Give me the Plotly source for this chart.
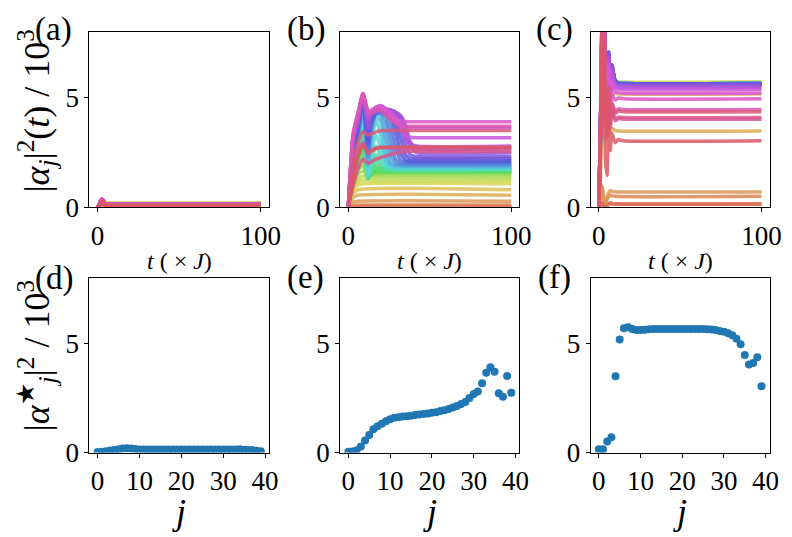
import colorsys
import plotly.graph_objects as go

# mode index
J_IDX = list(range(40))

# steady-state populations |alpha_j*|^2 / 10^3 (d), (e), (f)
D_FINAL = [0.02, 0.04, 0.06, 0.09, 0.12, 0.15, 0.19, 0.20, 0.19, 0.16,
           0.14, 0.14, 0.14, 0.14, 0.14, 0.14, 0.14, 0.14, 0.14, 0.14,
           0.14, 0.14, 0.14, 0.14, 0.14, 0.14, 0.14, 0.14, 0.14, 0.14,
           0.14, 0.14, 0.14, 0.14, 0.15, 0.13, 0.12, 0.12, 0.08, 0.06]
E_FINAL = [0.03, 0.05, 0.10, 0.28, 0.55, 0.80, 1.07, 1.20, 1.32, 1.43,
           1.53, 1.59, 1.62, 1.65, 1.66, 1.69, 1.72, 1.74, 1.76, 1.79,
           1.82, 1.85, 1.90, 1.94, 1.99, 2.06, 2.13, 2.22, 2.32, 2.50,
           2.68, 2.80, 3.18, 3.65, 3.91, 3.70, 2.72, 2.56, 3.51, 2.74]
F_FINAL = [0.15, 0.15, 0.50, 0.70, 3.49, 5.18, 5.69, 5.74, 5.66, 5.62,
           5.62, 5.63, 5.65, 5.66, 5.66, 5.66, 5.66, 5.66, 5.66, 5.66,
           5.66, 5.66, 5.66, 5.66, 5.66, 5.66, 5.65, 5.64, 5.62, 5.57,
           5.53, 5.46, 5.37, 5.21, 4.96, 4.47, 4.03, 4.10, 4.37, 3.04]

T_END = 100

# transients for panel (a): values at T_A knots, then the line holds D_FINAL
T_A = [0, 1, 2, 3, 4, 5, 7]
A_CURVES = [
    [0, 0.01, 0.02, 0.02, 0.02, 0.02],
    [0, 0.02, 0.05, 0.05, 0.04, 0.04],
    [0, 0.03, 0.07, 0.08, 0.06, 0.06],
    [0, 0.05, 0.11, 0.12, 0.10, 0.09],
    [0, 0.06, 0.15, 0.16, 0.13, 0.12],
    [0, 0.08, 0.19, 0.20, 0.16, 0.15],
    [0, 0.10, 0.24, 0.25, 0.20, 0.19],
    [0, 0.10, 0.25, 0.26, 0.21, 0.20],
    [0, 0.10, 0.25, 0.26, 0.20, 0.19],
    [0, 0.09, 0.22, 0.23, 0.17, 0.16],
    [0, 0.09, 0.24, 0.26, 0.18, 0.15, 0.14],
    [0, 0.09, 0.24, 0.27, 0.18, 0.15, 0.14],
    [0, 0.10, 0.25, 0.28, 0.19, 0.15, 0.14],
    [0, 0.10, 0.25, 0.28, 0.19, 0.15, 0.14],
    [0, 0.10, 0.26, 0.29, 0.19, 0.15, 0.14],
    [0, 0.10, 0.26, 0.29, 0.20, 0.15, 0.14],
    [0, 0.11, 0.27, 0.30, 0.20, 0.15, 0.14],
    [0, 0.11, 0.27, 0.30, 0.20, 0.15, 0.14],
    [0, 0.11, 0.28, 0.31, 0.21, 0.15, 0.14],
    [0, 0.11, 0.28, 0.31, 0.21, 0.15, 0.14],
    [0, 0.12, 0.29, 0.32, 0.21, 0.15, 0.14],
    [0, 0.12, 0.29, 0.33, 0.22, 0.15, 0.14],
    [0, 0.12, 0.30, 0.33, 0.22, 0.15, 0.14],
    [0, 0.12, 0.30, 0.34, 0.22, 0.15, 0.14],
    [0, 0.12, 0.30, 0.34, 0.22, 0.15, 0.14],
    [0, 0.13, 0.31, 0.35, 0.23, 0.15, 0.14],
    [0, 0.13, 0.31, 0.35, 0.23, 0.15, 0.14],
    [0, 0.13, 0.31, 0.36, 0.23, 0.15, 0.14],
    [0, 0.13, 0.32, 0.36, 0.23, 0.15, 0.14],
    [0, 0.13, 0.32, 0.36, 0.23, 0.15, 0.14],
    [0, 0.13, 0.32, 0.37, 0.23, 0.15, 0.14],
    [0, 0.13, 0.32, 0.37, 0.23, 0.15, 0.14],
    [0, 0.13, 0.32, 0.36, 0.23, 0.15, 0.14],
    [0, 0.13, 0.31, 0.36, 0.22, 0.15, 0.14],
    [0, 0.12, 0.30, 0.35, 0.22, 0.16, 0.15],
    [0, 0.10, 0.28, 0.33, 0.20, 0.14, 0.13],
    [0, 0.10, 0.27, 0.32, 0.19, 0.13, 0.12],
    [0, 0.10, 0.26, 0.30, 0.18, 0.13, 0.12],
    [0, 0.08, 0.20, 0.24, 0.14, 0.09, 0.08],
    [0, 0.06, 0.17, 0.20, 0.11, 0.07, 0.06],
]

# transients for panel (b)
T_B = [0, 3, 6, 9, 12, 14, 17, 20, 23, 26, 29, 32, 35, 38, 42]
B_CURVES = [
    [0, 0.03],
    [0, 0.05],
    [0, 0.09, 0.10],
    [0, 0.24, 0.28],
    [0, 0.45, 0.55],
    [0, 0.62, 0.80],
    [0, 0.75, 1.02, 1.07],
    [0, 0.85, 1.15, 1.24, 1.20],
    [0, 0.95, 1.30, 1.42, 1.30, 1.32],
    [0, 1.05, 1.50, 1.65, 1.38, 1.43],
    [0, 1.15, 1.70, 1.90, 1.42, 1.50, 1.53],
    [0, 1.25, 1.85, 2.20, 1.42, 1.50, 1.59],
    [0, 1.35, 2.00, 2.50, 1.40, 1.50, 1.64, 1.62],
    [0, 1.45, 2.15, 2.80, 1.38, 1.50, 1.70, 1.65],
    [0, 1.55, 2.30, 3.10, 1.35, 1.55, 1.78, 1.68, 1.66],
    [0, 1.65, 2.45, 3.40, 1.30, 1.60, 1.90, 1.75, 1.69],
    [0, 1.75, 2.60, 3.65, 1.30, 1.70, 2.10, 1.85, 1.74, 1.72],
    [0, 1.85, 2.70, 3.85, 1.35, 1.85, 2.40, 2.00, 1.80, 1.74],
    [0, 1.95, 2.80, 4.00, 1.40, 2.10, 2.80, 2.30, 1.90, 1.78, 1.76],
    [0, 2.05, 2.90, 4.15, 1.50, 2.40, 3.30, 2.70, 2.00, 1.82, 1.79],
    [0, 2.15, 3.00, 4.30, 1.70, 2.80, 4.00, 3.20, 2.10, 1.86, 1.82],
    [0, 2.25, 3.10, 4.45, 1.90, 3.10, 4.20, 3.90, 2.40, 1.92, 1.86, 1.85],
    [0, 2.35, 3.20, 4.55, 2.10, 3.40, 4.30, 4.20, 3.10, 2.05, 1.92, 1.90],
    [0, 2.45, 3.30, 4.65, 2.30, 3.60, 4.30, 4.30, 3.90, 2.50, 2.00, 1.95, 1.94],
    [0, 2.55, 3.40, 4.75, 2.50, 3.75, 4.30, 4.30, 4.20, 3.30, 2.20, 2.02, 1.99],
    [0, 2.65, 3.50, 4.85, 2.70, 3.85, 4.30, 4.35, 4.30, 4.00, 2.80, 2.15, 2.07, 2.06],
    [0, 2.75, 3.60, 4.95, 2.90, 3.95, 4.35, 4.40, 4.35, 4.25, 3.60, 2.50, 2.18, 2.13],
    [0, 2.85, 3.70, 5.00, 3.10, 4.05, 4.40, 4.45, 4.40, 4.35, 4.10, 3.20, 2.40, 2.24, 2.22],
    [0, 2.95, 3.80, 5.05, 3.30, 4.15, 4.45, 4.50, 4.45, 4.40, 4.30, 3.90, 2.90, 2.40, 2.32],
    [0, 3.05, 3.90, 5.10, 3.60, 4.25, 4.50, 4.55, 4.50, 4.45, 4.35, 4.15, 3.50, 2.75, 2.50],
    [0, 3.15, 4.00, 5.15, 3.90, 4.30, 4.50, 4.60, 4.50, 4.45, 4.35, 4.20, 3.80, 3.00, 2.68],
    [0, 3.25, 4.10, 5.20, 4.10, 4.35, 4.55, 4.62, 4.50, 4.40, 4.20, 3.80, 3.20, 2.90, 2.80],
    [0, 3.30, 4.20, 5.20, 4.30, 4.40, 4.58, 4.65, 4.50, 4.35, 4.00, 3.60, 3.30, 3.20, 3.18],
    [0, 3.35, 4.30, 5.20, 4.40, 4.40, 4.58, 4.60, 4.42, 4.20, 3.95, 3.78, 3.68, 3.65],
    [0, 3.40, 4.35, 5.20, 4.45, 4.42, 4.55, 4.55, 4.40, 4.20, 4.05, 3.96, 3.92, 3.91],
    [0, 3.30, 4.30, 5.10, 4.35, 4.25, 4.40, 4.40, 4.20, 4.00, 3.84, 3.75, 3.71, 3.70],
    [0, 1.50, 2.60, 2.95, 2.45, 2.55, 2.68, 2.74, 2.72],
    [0, 1.00, 1.75, 2.20, 2.00, 2.08, 2.20, 2.28, 2.35, 2.42, 2.48, 2.52, 2.55, 2.56],
    [0, 2.00, 3.00, 3.45, 3.30, 3.35, 3.45, 3.50, 3.51],
    [0, 1.30, 2.30, 2.85, 2.50, 2.60, 2.70, 2.73, 2.74],
]

# transients for panel (c)
T_C = [0, 1, 2, 3, 4, 5, 6, 7, 8, 10, 12, 15]
C_CURVES = [
    [0, 0.10, 0.20, 0.08, 0.02, 0.06, 0.14, 0.20, 0.17, 0.15],
    [0, 0.12, 0.22, 0.10, 0.03, 0.08, 0.16, 0.20, 0.16, 0.15],
    [0, 0.55, 0.90, 0.35, 0.20, 0.35, 0.50, 0.56, 0.53, 0.50],
    [0, 0.70, 1.00, 0.45, 0.25, 0.45, 0.66, 0.76, 0.74, 0.71, 0.70],
    [0, 1.50, 3.80, 5.20, 3.10, 3.20, 3.30, 3.55, 3.60, 3.52, 3.49],
    [0, 2.50, 6.00, 8.50, 5.60, 4.90, 5.50, 5.30, 5.15, 5.20, 5.18],
    [0, 2.80, 7.00, 9.00, 7.00, 5.80, 6.30, 5.90, 5.80, 5.72, 5.69],
    [0, 2.90, 7.20, 9.00, 7.20, 5.90, 6.40, 6.00, 5.90, 5.78, 5.74],
    [0, 3.00, 7.40, 9.20, 7.10, 5.70, 6.50, 5.90, 6.00, 5.72, 5.68, 5.66],
    [0, 3.00, 7.50, 9.20, 7.00, 5.60, 6.50, 5.80, 6.00, 5.70, 5.64, 5.62],
    [0, 3.10, 7.60, 9.30, 6.90, 5.50, 6.60, 5.80, 6.10, 5.70, 5.64, 5.62],
    [0, 3.10, 7.60, 9.30, 6.90, 5.50, 6.60, 5.70, 6.10, 5.72, 5.65, 5.63],
    [0, 3.10, 7.70, 9.40, 6.80, 5.40, 6.60, 5.70, 6.10, 5.74, 5.67, 5.65],
    [0, 3.20, 7.70, 9.40, 6.80, 5.40, 6.70, 5.70, 6.20, 5.75, 5.68, 5.66],
    [0, 3.20, 7.80, 9.50, 6.70, 5.30, 6.70, 5.60, 6.20, 5.75, 5.68, 5.66],
    [0, 3.20, 7.80, 9.50, 6.70, 5.30, 6.70, 5.60, 6.20, 5.76, 5.68, 5.66],
    [0, 3.30, 7.90, 9.50, 6.60, 5.20, 6.80, 5.60, 6.30, 5.76, 5.68, 5.66],
    [0, 3.30, 7.90, 9.60, 6.60, 5.20, 6.80, 5.50, 6.30, 5.77, 5.68, 5.66],
    [0, 3.30, 8.00, 9.60, 6.50, 5.10, 6.80, 5.50, 6.30, 5.77, 5.68, 5.66],
    [0, 3.40, 8.00, 9.60, 6.50, 5.10, 6.90, 5.50, 6.30, 5.78, 5.68, 5.66],
    [0, 3.40, 8.10, 9.70, 6.40, 5.00, 6.90, 5.40, 6.40, 5.78, 5.68, 5.66],
    [0, 3.40, 8.10, 9.70, 6.40, 5.00, 6.90, 5.40, 6.40, 5.78, 5.68, 5.66],
    [0, 3.50, 8.20, 9.70, 6.30, 4.90, 7.00, 5.40, 6.40, 5.79, 5.68, 5.66],
    [0, 3.50, 8.20, 9.80, 6.30, 4.90, 7.00, 5.30, 6.40, 5.79, 5.68, 5.66],
    [0, 3.50, 8.30, 9.80, 6.20, 4.80, 7.00, 5.30, 6.50, 5.80, 5.68, 5.66],
    [0, 3.60, 8.30, 9.80, 6.20, 4.80, 7.00, 5.30, 6.50, 5.80, 5.68, 5.66],
    [0, 3.60, 8.40, 9.90, 6.10, 4.70, 7.10, 5.20, 6.50, 5.78, 5.67, 5.65],
    [0, 3.60, 8.40, 9.90, 6.10, 4.70, 7.10, 5.20, 6.50, 5.76, 5.66, 5.64],
    [0, 3.70, 8.50, 9.90, 6.00, 4.60, 7.10, 5.20, 6.50, 5.74, 5.64, 5.62],
    [0, 3.70, 8.50, 9.90, 5.90, 4.50, 7.00, 5.10, 6.40, 5.68, 5.59, 5.57],
    [0, 3.70, 8.50, 9.80, 5.80, 4.50, 6.90, 5.00, 6.30, 5.62, 5.55, 5.53],
    [0, 3.70, 8.40, 9.70, 5.70, 4.40, 6.80, 4.90, 6.20, 5.55, 5.48, 5.46],
    [0, 3.60, 8.30, 9.50, 5.70, 4.40, 6.60, 4.90, 6.00, 5.45, 5.39, 5.37],
    [0, 3.60, 8.20, 9.30, 5.60, 4.40, 6.30, 4.80, 5.70, 5.28, 5.23, 5.21],
    [0, 3.50, 8.00, 9.00, 5.50, 4.30, 5.80, 4.60, 5.20, 4.90, 5.00, 4.96],
    [0, 3.50, 8.20, 8.80, 4.80, 3.80, 5.40, 4.20, 4.80, 4.40, 4.50, 4.47],
    [0, 3.40, 8.30, 8.50, 4.00, 3.20, 5.00, 3.60, 4.40, 3.95, 4.05, 4.03],
    [0, 3.40, 8.20, 8.30, 4.20, 3.40, 5.20, 3.80, 4.50, 4.05, 4.12, 4.10],
    [0, 3.50, 8.00, 8.60, 4.60, 3.70, 5.50, 4.10, 4.70, 4.30, 4.40, 4.37],
    [0, 2.50, 6.00, 7.50, 2.30, 1.45, 4.00, 2.60, 3.40, 2.95, 3.10, 3.04],
]

Y_TICKS = [0, 5]
X_TICKS_TOP = [0, 100]
X_TICKS_BOT = [0, 10, 20, 30, 40]
PANEL_LABELS = ['(a)', '(b)', '(c)', '(d)', '(e)', '(f)']

W, H = 792, 537
FONT = 'Liberation Serif, Times New Roman, DejaVu Serif, serif'
DOT_BLUE = '#1f77b4'


def hls_palette(n, h=0.01, l=0.6, s=0.65):
    out = []
    for i in range(n):
        hue = (i / n + h) % 1
        r, g, b = colorsys.hls_to_rgb(hue, l, s)
        out.append('rgb(%d,%d,%d)' % (round(r * 255), round(g * 255), round(b * 255)))
    return out


COLORS = hls_palette(len(J_IDX))

# pixel boxes of each panel (left, right) and (top, bottom)
COL_PX = [(82.7, 265.0), (337.3, 519.3), (591.7, 773.3)]
ROW_PX = [(25.0, 205.0), (277.7, 457.3)]


def xdom(c):
    return [COL_PX[c][0] / W, COL_PX[c][1] / W]


def ydom(r):
    return [1 - ROW_PX[r][1] / H, 1 - ROW_PX[r][0] / H]


fig = go.Figure()

top_sets = [(T_A, A_CURVES, D_FINAL), (T_B, B_CURVES, E_FINAL), (T_C, C_CURVES, F_FINAL)]
for c, (knots, curves, finals) in enumerate(top_sets):
    ax = c + 1
    for j in J_IDX:
        row = curves[j]
        xs = knots[:len(row)] + [T_END]
        ys = row + [finals[j]]
        fig.add_trace(go.Scatter(x=xs, y=ys, mode='lines', line=dict(color=COLORS[j], width=3.5, shape='spline', smoothing=0.6),
                                 opacity=0.85, xaxis='x%d' % ax, yaxis='y%d' % ax, hoverinfo='skip'))

for c, finals in enumerate([D_FINAL, E_FINAL, F_FINAL]):
    ax = c + 4
    fig.add_trace(go.Scatter(x=J_IDX, y=finals, mode='markers', marker=dict(color=DOT_BLUE, size=8),
                             xaxis='x%d' % ax, yaxis='y%d' % ax))

axis_style = dict(showline=True, linecolor='black', linewidth=1, mirror=True, ticks='outside', ticklen=4,
                  tickwidth=1, tickcolor='black', showgrid=False, zeroline=False,
                  tickfont=dict(family=FONT, size=27, color='black'))
layout = {}
for i in range(6):
    r, c = divmod(i, 3)
    n = i + 1
    key = '' if n == 1 else str(n)
    if r == 0:
        xa = dict(axis_style, domain=xdom(c), range=[-5, 105], tickvals=X_TICKS_TOP, anchor='y' + key)
    else:
        xa = dict(axis_style, domain=xdom(c), range=[-1.95, 40.95], tickvals=X_TICKS_BOT, anchor='y' + key)
    ya = dict(axis_style, domain=ydom(r), range=[0, 8], tickvals=Y_TICKS, anchor='x' + key)
    layout['xaxis' + key] = xa
    layout['yaxis' + key] = ya

annotations = []
label_pos = [(46, 22), (303, 22), (555, 22), (47, 278), (302, 277), (555, 277)]
for lab, (px, py) in zip(PANEL_LABELS, label_pos):
    annotations.append(dict(text=lab, x=px / W, y=1 - py / H, xref='paper', yref='paper', showarrow=False,
                            font=dict(family=FONT, size=33, color='black'), xanchor='center', yanchor='middle'))
for c in range(3):
    cx = (COL_PX[c][0] + COL_PX[c][1]) / 2
    annotations.append(dict(text='<i>t</i> ( × <i>J</i>)', x=cx / W, y=1 - 260 / H, xref='paper', yref='paper',
                            showarrow=False, font=dict(family=FONT, size=24, color='black'),
                            xanchor='center', yanchor='middle'))
    annotations.append(dict(text='<i>j</i>', x=cx / W, y=1 - 518 / H, xref='paper', yref='paper',
                            showarrow=False, font=dict(family=FONT, size=36, color='black'),
                            xanchor='center', yanchor='middle'))
annotations.append(dict(text='|<i>α</i><sub><i>j</i></sub>|<sup>2</sup>(<i>t</i>) / 10<sup>3</sup>',
                        x=29 / W, y=1 - 106 / H, xref='paper', yref='paper', showarrow=False, textangle=-90,
                        font=dict(family=FONT, size=36, color='black'), xanchor='center', yanchor='middle'))
annotations.append(dict(text='|<i>α</i><sup>★</sup><sub><i>j</i></sub>|<sup>2</sup> / 10<sup>3</sup>',
                        x=29 / W, y=1 - 358 / H, xref='paper', yref='paper', showarrow=False, textangle=-90,
                        font=dict(family=FONT, size=36, color='black'), xanchor='center', yanchor='middle'))

fig.update_layout(width=W, height=H, margin=dict(l=0, r=0, t=0, b=0), showlegend=False,
                  plot_bgcolor='white', paper_bgcolor='white', annotations=annotations, **layout)
fig.write_html("out.html")
